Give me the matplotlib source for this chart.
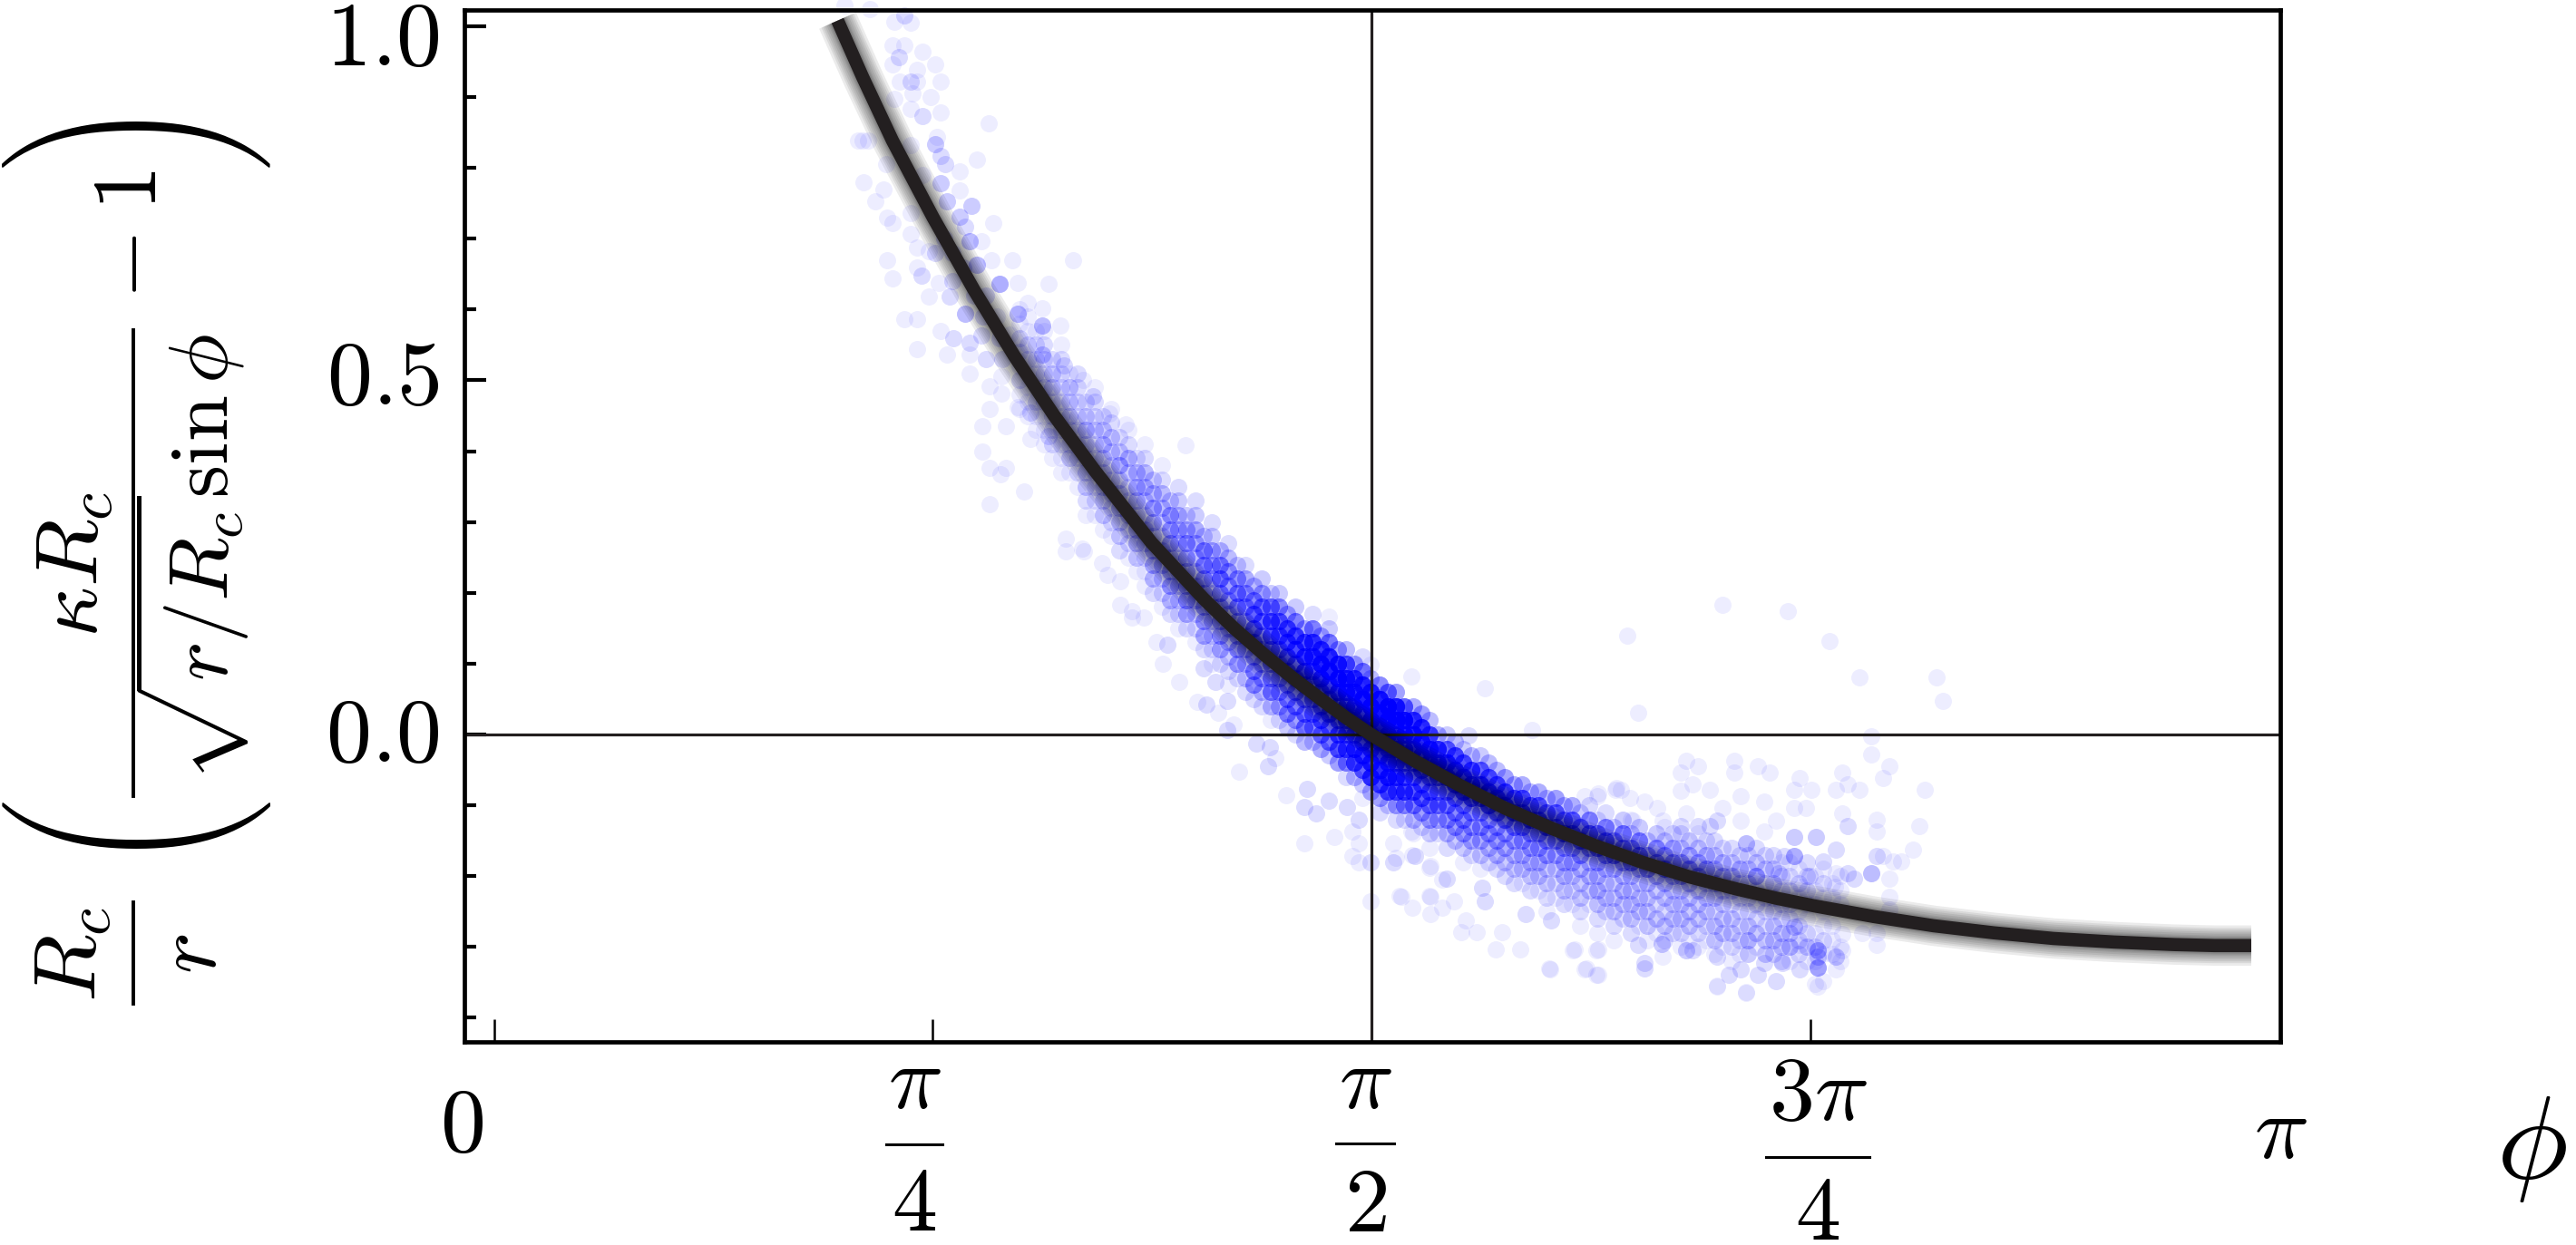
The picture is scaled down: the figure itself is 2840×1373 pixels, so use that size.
import numpy as np
import matplotlib
matplotlib.use("Agg")
import matplotlib.pyplot as plt
import matplotlib.patheffects as pe
from matplotlib.font_manager import FontProperties
from matplotlib.lines import Line2D
import os

plt.rcParams['mathtext.fontset'] = 'cm'

# fitted curve
curve_phi = [0.615, 0.660, 0.713, 0.786, 0.859, 0.931, 1.003, 1.076, 1.177, 1.270, 1.325, 1.380, 1.430,
             1.480, 1.525, 1.570, 1.650, 1.727, 1.810, 1.892, 1.975, 2.058, 2.140, 2.224, 2.295, 2.364, 2.470,
             2.577, 2.685, 2.792, 2.900, 3.008, 3.080, 3.146]
curve_ratio = [1.008, 0.928, 0.839, 0.730, 0.628, 0.535, 0.450, 0.372, 0.271, 0.192, 0.150, 0.112, 0.080,
               0.050, 0.024, 0.000, -0.038, -0.071, -0.104, -0.132, -0.158, -0.181, -0.201, -0.218, -0.231,
               -0.242, -0.257, -0.270, -0.280, -0.288, -0.293, -0.2966, -0.298, -0.298]

# (phi, ratio, how many dots sit there), steep left part
upper_points = [
    (.628, 1.030, 1), (.672, 1.024, 1), (.717, 1.006, 1), (.735, 1.015, 2), (.746, 1.005, 1), (.713, .973, 1),
    (.735, .973, 1), (.767, .964, 1), (.725, .956, 2), (.713, .946, 1), (.789, .946, 1), (.757, .939, 1),
    (.726, .922, 1), (.746, .922, 2), (.758, .922, 1), (.799, .922, 1), (.717, .898, 1), (.749, .905, 1),
    (.782, .900, 1), (.746, .883, 1), (.767, .873, 2), (.799, .878, 1), (.886, .863, 1), (.651, .838, 1),
    (.670, .838, 1), (.660, .838, 1), (.793, .844, 1), (.789, .834, 3), (.746, .832, 1), (.799, .817, 2),
    (.864, .812, 1), (.702, .805, 1), (.807, .805, 2), (.833, .795, 1), (.661, .780, 1), (.697, .770, 1),
    (.767, .790, 1), (.800, .778, 3), (.683, .753, 1), (.811, .753, 3), (.833, .768, 1), (.704, .730, 1),
    (.713, .722, 1), (.746, .736, 1), (.746, .707, 1), (.854, .746, 3), (.833, .731, 3), (.894, .722, 1),
    (.843, .717, 2), (.757, .687, 1), (.851, .697, 4), (.873, .697, 1), (.704, .670, 1), (.757, .660, 1),
    (.778, .682, 1), (.891, .670, 1), (.927, .670, 1), (1.036, .670, 1), (.865, .663, 4), (.713, .644, 1),
    (.765, .648, 2), (.796, .638, 1), (.905, .636, 5), (.992, .636, 1), (.938, .638, 1), (.778, .619, 1),
    (.815, .619, 2), (.843, .594, 4), (.938, .594, 4), (.981, .602, 1), (.735, .586, 1), (.757, .586, 1),
    (.981, .577, 4), (1.014, .577, 1), (.800, .570, 1), (.822, .560, 2), (.873, .563, 2), (.923, .565, 1),
    (.851, .553, 2), (.757, .544, 1), (.811, .536, 1), (.851, .536, 1), (.981, .536, 3), (1.021, .521, 2),
    (.851, .510, 1), (.909, .506, 1), (.887, .492, 1), (.887, .460, 1), (.874, .435, 1), (.874, .400, 1),
    (.887, .377, 1), (.907, .367, 1), (.916, .377, 1), (.949, .343, 1), (.887, .325, 1), (.909, .482, 1),
    (.938, .462, 1), (.960, .455, 2), (.916, .435, 1), (.960, .418, 1), (.992, .421, 2), (.806, .700, 2),
    (.790, .680, 2), (.820, .680, 2), (.840, .660, 2), (.820, .640, 2), (.860, .620, 2), (.880, .620, 2),
    (.875, .590, 2), (.900, .590, 1), (.905, .560, 2), (.880, .530, 2), (.910, .530, 2), (1.238, .409, 1),
    (1.054, .500, 1), (1.072, .477, 2), (1.101, .453, 1), (1.130, .438, 1),
]

# stray dots below the band, phi 1 to 2
lower_points = [
    (1.023, .276, 1), (1.053, .263, 1), (1.023, .259, 1), (1.056, .259, 1), (1.088, .242, 1), (1.099, .225, 1),
    (1.121, .217, 1), (1.121, .183, 1), (1.142, .174, 1), (1.142, .165, 1), (1.164, .165, 1), (1.186, .131, 1),
    (1.205, .127, 2), (1.197, .100, 1), (1.226, .074, 1), (1.270, .093, 2), (1.291, .074, 2), (1.313, .048, 2),
    (1.259, .046, 1), (1.275, .042, 2), (1.297, .031, 1), (1.324, .014, 1), (1.313, .006, 2), (1.494, .166, 1),
    (1.570, .099, 1), (1.643, .082, 1), (1.364, -.013, 2), (1.389, -.018, 2), (1.399, -.033, 1), (1.386, -.045, 2),
    (1.334, -.053, 1), (1.456, -.077, 2), (1.418, -.086, 1), (1.451, -.103, 2), (1.472, -.111, 2), (1.494, -.094, 2),
    (1.527, -.103, 2), (1.548, -.120, 2), (1.505, -.145, 1), (1.451, -.154, 1), (1.537, -.137, 1), (1.548, -.154, 1),
    (1.537, -.171, 1), (1.570, -.180, 2), (1.548, -.180, 1), (1.610, -.154, 1), (1.643, -.137, 1), (1.610, -.180, 2),
    (1.648, -.171, 2), (1.675, -.188, 1), (1.697, -.205, 1), (1.621, -.228, 1), (1.675, -.228, 1), (1.570, -.235, 1),
    (1.624, -.229, 1), (1.677, -.229, 1), (1.719, -.236, 1), (1.644, -.245, 1), (1.698, -.245, 1), (1.677, -.254, 1),
    (1.740, -.263, 1), (1.773, -.236, 2), (1.731, -.279, 1), (1.760, -.279, 1), (1.804, -.279, 1), (1.794, -.304, 1),
    (1.837, -.304, 1), (1.847, -.254, 2), (1.893, -.263, 2), (1.934, -.304, 1), (1.976, -.304, 1), (1.889, -.330, 1),
    (1.955, -.330, 1), (1.976, -.339, 1), (2.059, -.330, 2), (1.706, -.204, 2), (1.769, -.216, 2), (1.615, -.174, 1),
    (1.644, -.170, 1), (1.677, -.186, 1), (1.773, .065, 1), (1.858, .006, 1), (1.744, -.001, 2), (1.976, -.083, 1),
    (2.009, -.076, 1), (1.890, -.331, 1), (1.932, -.305, 1), (1.953, -.331, 1), (1.974, -.339, 1), (1.974, -.305, 1),
]

# sparse cloud on the right side
right_points = [
    (2.199, .183, 1), (2.317, .174, 1), (2.028, .140, 1), (2.391, .132, 1), (2.444, .081, 1), (2.583, .081, 1),
    (2.594, .048, 1), (2.049, .031, 1), (2.466, -.003, 1), (2.466, -.028, 1), (2.135, -.037, 1), (2.156, -.045, 1),
    (2.220, -.037, 1), (2.220, -.054, 1), (2.263, -.045, 1), (2.284, -.054, 1), (2.498, -.045, 1), (2.124, -.054, 1),
    (2.145, -.071, 1), (2.124, -.079, 1), (2.177, -.078, 1), (2.231, -.087, 1), (2.337, -.061, 1), (2.327, -.078, 1),
    (2.359, -.078, 1), (2.413, -.054, 1), (2.423, -.071, 1), (2.402, -.078, 1), (2.444, -.078, 1), (2.487, -.061, 1),
    (2.562, -.078, 1), (2.274, -.095, 1), (2.199, -.104, 1), (2.060, -.095, 1), (2.082, -.104, 1), (2.327, -.104, 1),
    (2.348, -.104, 1), (2.413, -.112, 1), (2.476, -.120, 1), (2.551, -.129, 1), (2.476, -.137, 1), (2.423, -.129, 2),
    (2.541, -.162, 1), (2.476, -.171, 2), (2.487, -.171, 1), (2.504, -.179, 1), (2.520, -.179, 1), (2.466, -.196, 4),
    (2.498, -.204, 1), (2.498, -.229, 1), (2.434, -.204, 2), (2.423, -.196, 2), (2.402, -.196, 1), (2.380, -.179, 2),
    (2.402, -.162, 2), (2.367, -.145, 3), (2.327, -.145, 3), (2.295, -.121, 1), (2.274, -.137, 1), (2.231, -.121, 1),
    (2.189, -.121, 2), (2.242, -.154, 4), (2.327, -.171, 5), (2.309, -.171, 2), (2.177, -.129, 2), (2.156, -.129, 2),
    (2.124, -.129, 2), (2.135, -.112, 1), (2.092, -.121, 1), (2.038, -.121, 1), (2.018, -.078, 1), (2.007, -.078, 1),
    (2.033, -.090, 1), (1.975, -.087, 1), (1.953, -.087, 1), (2.355, -.200, 2), (2.300, -.196, 2), (2.260, -.200, 2),
    (2.340, -.215, 1), (2.400, -.215, 1), (2.189, -.314, 2), (2.189, -.356, 1), (2.210, -.339, 2), (2.231, -.331, 2),
    (2.242, -.365, 1), (2.274, -.322, 2), (2.263, -.339, 2), (2.295, -.348, 2), (2.306, -.322, 2), (2.337, -.331, 2),
    (2.370, -.305, 5), (2.370, -.314, 3), (2.370, -.329, 6), (2.370, -.356, 1), (2.380, -.348, 1), (2.402, -.314, 3),
    (2.413, -.305, 1), (2.402, -.331, 1), (2.476, -.297, 1), (2.476, -.280, 1), (2.498, -.247, 1), (2.449, -.280, 1),
    (2.413, -.282, 1), (2.327, -.271, 3), (2.337, -.297, 1), (2.190, -.355, 1), (2.241, -.364, 1), (2.365, -.352, 1),
    (2.090, -.296, 3), (2.135, -.305, 3), (2.145, -.305, 2), (2.060, -.322, 2), (2.092, -.314, 1), (2.049, -.297, 2),
]

# main band, one row per phi: ratios and how many dots at each
band_a = [
    (.94, [.60, .58, .56, .54, .52, .50, .48, .46], [1, 1, 2, 2, 1, 2, 1, 1]),
    (.97, [.57, .55, .53, .51, .49, .47, .45, .43], [1, 2, 2, 2, 1, 2, 1, 1]),
    (1.00, [.53, .51, .49, .47, .45, .43, .41, .39], [2, 3, 3, 2, 2, 2, 2, 1]),
    (1.03, [.51, .49, .47, .45, .43, .41, .39, .37], [1, 3, 3, 3, 2, 2, 3, 1]),
    (1.06, [.47, .45, .43, .41, .39, .37, .35, .33, .31], [2, 3, 4, 3, 2, 3, 3, 2, 1]),
    (1.09, [.45, .43, .41, .39, .37, .35, .33, .31, .29], [2, 3, 4, 3, 3, 3, 3, 3, 1]),
    (1.12, [.42, .40, .38, .36, .34, .32, .30, .28, .26], [2, 3, 5, 3, 3, 4, 3, 3, 2]),
    (1.15, [.39, .37, .35, .33, .31, .29, .27, .25, .23], [2, 4, 5, 4, 3, 4, 4, 3, 1]),
    (1.18, [.36, .34, .32, .30, .28, .26, .24, .22, .20], [3, 4, 6, 5, 3, 5, 5, 4, 2]),
    (1.21, [.33, .31, .29, .27, .25, .23, .21, .19, .17], [3, 6, 6, 6, 4, 5, 6, 4, 2]),
    (1.24, [.31, .29, .27, .25, .23, .21, .19, .17, .15], [3, 5, 7, 6, 5, 6, 7, 5, 2]),
    (1.27, [.28, .26, .24, .22, .20, .18, .16, .14, .12], [3, 8, 8, 7, 6, 6, 6, 5, 2]),
    (1.30, [.26, .24, .22, .20, .18, .16, .14, .12, .10], [4, 8, 10, 8, 6, 6, 6, 5, 2]),
    (1.33, [.24, .22, .20, .18, .16, .14, .12, .10, .08], [3, 7, 9, 9, 7, 6, 7, 6, 2]),
    (1.36, [.21, .19, .17, .15, .13, .11, .09, .07, .05], [4, 8, 12, 12, 9, 7, 8, 7, 2]),
    (1.39, [.20, .18, .16, .14, .12, .10, .08, .06, .04, .02], [3, 10, 15, 14, 11, 8, 8, 9, 4, 1]),
    (1.42, [.17, .15, .13, .11, .09, .07, .05, .03, .01], [5, 14, 15, 14, 10, 8, 9, 8, 3]),
    (1.45, [.15, .13, .11, .09, .07, .05, .03, .01, -.01], [5, 15, 20, 18, 12, 10, 10, 10, 4]),
    (1.48, [.14, .12, .10, .08, .06, .04, .02, .00, -.02], [5, 18, 25, 22, 15, 12, 14, 10, 5]),
    (1.51, [.12, .10, .08, .06, .04, .02, .00, -.02, -.04], [6, 22, 25, 22, 16, 14, 16, 14, 6]),
    (1.54, [.10, .08, .06, .04, .02, .00, -.02, -.04, -.06], [6, 18, 22, 22, 16, 14, 18, 16, 4]),
    (1.57, [.08, .06, .04, .02, .00, -.02, -.04, -.06, -.08], [4, 22, 30, 28, 18, 18, 22, 20, 5]),
    (1.60, [.06, .04, .02, .00, -.02, -.04, -.06, -.08, -.10], [10, 30, 30, 25, 16, 20, 22, 14, 3]),
    (1.63, [.04, .02, .00, -.02, -.04, -.06, -.08, -.10, -.12], [12, 28, 26, 22, 14, 16, 16, 8, 2]),
    (1.66, [.03, .01, -.01, -.03, -.05, -.07, -.09, -.11, -.13], [6, 20, 24, 22, 14, 12, 12, 6, 2]),
    (1.69, [.00, -.02, -.04, -.06, -.08, -.10, -.12, -.14], [5, 20, 22, 14, 10, 10, 5, 2]),
    (1.72, [-.01, -.03, -.05, -.07, -.09, -.11, -.13, -.15], [4, 15, 22, 16, 10, 8, 6, 3]),
    (1.75, [-.03, -.05, -.07, -.09, -.11, -.13, -.15, -.17], [4, 16, 20, 15, 8, 6, 5, 2]),
    (1.78, [-.04, -.06, -.08, -.10, -.12, -.14, -.16, -.18], [4, 14, 20, 15, 7, 6, 4, 2]),
    (1.81, [-.06, -.08, -.10, -.12, -.14, -.16, -.18, -.20], [6, 16, 16, 10, 6, 5, 3, 2]),
    (1.84, [-.07, -.09, -.11, -.13, -.15, -.17, -.19, -.21], [5, 14, 15, 10, 6, 4, 3, 1]),
    (1.87, [-.08, -.10, -.12, -.14, -.16, -.18, -.20, -.22], [5, 12, 14, 8, 6, 4, 3, 1]),
    (1.90, [-.09, -.11, -.13, -.15, -.17, -.19, -.21, -.23], [6, 12, 13, 8, 5, 3, 2, 1]),
    (1.93, [-.10, -.12, -.14, -.16, -.18, -.20, -.22, -.24], [5, 12, 12, 7, 5, 3, 2, 1]),
    (1.96, [-.10, -.12, -.14, -.16, -.18, -.20, -.22, -.24], [2, 8, 12, 8, 4, 4, 3, 1]),
    (1.99, [-.11, -.13, -.15, -.17, -.19, -.21, -.23, -.25], [2, 8, 12, 8, 4, 3, 3, 2]),
    (2.02, [-.12, -.14, -.16, -.18, -.20, -.22, -.24, -.26], [3, 9, 10, 6, 4, 4, 3, 2]),
    (2.05, [-.13, -.15, -.17, -.19, -.21, -.23, -.25, -.27], [3, 8, 10, 5, 3, 3, 3, 1]),
    (2.08, [-.14, -.16, -.18, -.20, -.22, -.24, -.26, -.28], [3, 7, 8, 4, 3, 2, 3, 1]),
    (2.11, [-.14, -.16, -.18, -.20, -.22, -.24, -.26, -.28], [2, 5, 7, 5, 3, 3, 3, 2]),
    (2.14, [-.15, -.17, -.19, -.21, -.23, -.25, -.27, -.29], [3, 5, 7, 4, 3, 3, 3, 1]),
    (2.17, [-.15, -.17, -.19, -.21, -.23, -.25, -.27, -.29], [2, 4, 6, 3, 3, 3, 2, 1]),
    (2.20, [-.16, -.18, -.20, -.22, -.24, -.26, -.28, -.30], [2, 4, 5, 3, 3, 3, 3, 1]),
    (2.23, [-.17, -.19, -.21, -.23, -.25, -.27, -.29, -.31], [2, 4, 3, 2, 2, 2, 2, 1]),
    (2.26, [-.16, -.18, -.20, -.22, -.24, -.26, -.28, -.30], [2, 3, 4, 2, 2, 2, 3, 1]),
    (2.29, [-.17, -.19, -.21, -.23, -.25, -.27, -.29, -.31], [2, 3, 3, 2, 2, 3, 3, 2]),
    (2.32, [-.18, -.20, -.22, -.24, -.26, -.28, -.30, -.32], [1, 2, 2, 2, 2, 3, 4, 1]),
    (2.35, [-.18, -.20, -.22, -.24, -.26, -.28, -.30, -.32], [2, 2, 2, 1, 1, 2, 3, 1]),
    (2.38, [-.19, -.21, -.23, -.25, -.27, -.29, -.31], [1, 2, 1, 1, 1, 2, 1]),
    (2.41, [-.20, -.22, -.24, -.30, -.32], [1, 1, 1, 1, 1]),
]

# the columns between those
band_b = [
    (.955, [.61, .59, .57, .55, .53, .51, .49, .47, .45], [1, 1, 1, 2, 2, 1, 1, 1, 1]),
    (.985, [.57, .55, .53, .51, .49, .47, .45, .43, .41], [1, 2, 2, 2, 2, 2, 1, 1, 1]),
    (1.015, [.55, .53, .51, .49, .47, .45, .43, .41, .39, .37], [1, 2, 2, 2, 2, 2, 2, 2, 1, 1]),
    (1.045, [.51, .49, .47, .45, .43, .41, .39, .37, .35], [2, 2, 2, 2, 2, 2, 2, 2, 1]),
    (1.075, [.49, .47, .45, .43, .41, .39, .37, .35, .33, .31], [1, 2, 2, 3, 2, 2, 2, 2, 2, 1]),
    (1.105, [.46, .44, .42, .40, .38, .36, .34, .32, .30, .28], [1, 2, 3, 3, 2, 2, 2, 2, 2, 1]),
    (1.135, [.43, .41, .39, .37, .35, .33, .31, .29, .27, .25], [1, 2, 4, 3, 2, 2, 3, 2, 2, 1]),
    (1.165, [.41, .39, .37, .35, .33, .31, .29, .27, .25, .23, .21], [1, 2, 4, 4, 3, 2, 3, 3, 2, 1, 1]),
    (1.195, [.38, .36, .34, .32, .30, .28, .26, .24, .22, .20, .18], [1, 2, 4, 4, 3, 2, 3, 4, 3, 2, 1]),
    (1.225, [.35, .33, .31, .29, .27, .25, .23, .21, .19, .17, .15], [2, 3, 4, 5, 4, 3, 3, 4, 3, 2, 1]),
    (1.255, [.33, .31, .29, .27, .25, .23, .21, .19, .17, .15, .13], [2, 3, 5, 5, 4, 3, 4, 4, 3, 2, 1]),
    (1.285, [.30, .28, .26, .24, .22, .20, .18, .16, .14, .12, .10], [2, 3, 5, 6, 5, 3, 4, 4, 3, 2, 1]),
    (1.315, [.27, .25, .23, .21, .19, .17, .15, .13, .11, .09, .07], [2, 4, 6, 6, 5, 4, 4, 4, 3, 2, 1]),
    (1.345, [.24, .22, .20, .18, .16, .14, .12, .10, .08, .06], [2, 5, 7, 7, 5, 4, 5, 4, 3, 2]),
    (1.375, [.22, .20, .18, .16, .14, .12, .10, .08, .06, .04], [3, 6, 10, 11, 8, 6, 6, 6, 4, 2]),
    (1.405, [.20, .18, .16, .14, .12, .10, .08, .06, .04, .02], [3, 8, 13, 13, 10, 7, 7, 7, 5, 2]),
    (1.435, [.18, .16, .14, .12, .10, .08, .06, .04, .02, .00], [3, 9, 16, 16, 12, 9, 9, 9, 6, 2]),
    (1.465, [.17, .15, .13, .11, .09, .07, .05, .03, .01, -.01], [2, 9, 18, 20, 15, 10, 10, 10, 8, 3]),
    (1.495, [.15, .13, .11, .09, .07, .05, .03, .01, -.01, -.03], [3, 10, 22, 25, 18, 13, 14, 12, 10, 3]),
    (1.525, [.12, .10, .08, .06, .04, .02, .00, -.02, -.04, -.06], [4, 14, 24, 24, 18, 15, 16, 15, 8, 2]),
    (1.555, [.11, .09, .07, .05, .03, .01, -.01, -.03, -.05, -.07, -.09], [2, 10, 22, 26, 20, 15, 18, 18, 12, 3, 1]),
    (1.585, [.07, .05, .03, .01, -.01, -.03, -.05, -.07, -.09, -.11], [8, 26, 32, 28, 18, 20, 22, 16, 6, 2]),
    (1.615, [.06, .04, .02, .00, -.02, -.04, -.06, -.08, -.10, -.12], [6, 24, 30, 26, 18, 18, 20, 14, 6, 2]),
    (1.645, [.04, .02, .00, -.02, -.04, -.06, -.08, -.10, -.12, -.14], [5, 20, 26, 24, 15, 14, 14, 9, 4, 1]),
    (1.675, [.02, .00, -.02, -.04, -.06, -.08, -.10, -.12, -.14, -.16], [4, 16, 24, 22, 12, 12, 10, 6, 3, 1]),
    (1.705, [.00, -.02, -.04, -.06, -.08, -.10, -.12, -.14, -.16], [3, 12, 22, 18, 10, 10, 7, 4, 2]),
    (1.735, [-.02, -.04, -.06, -.08, -.10, -.12, -.14, -.16, -.18], [3, 14, 20, 16, 9, 8, 6, 3, 1]),
    (1.765, [-.03, -.05, -.07, -.09, -.11, -.13, -.15, -.17, -.19], [3, 12, 20, 15, 8, 7, 5, 3, 1]),
    (1.795, [-.05, -.07, -.09, -.11, -.13, -.15, -.17, -.19], [4, 14, 18, 12, 6, 6, 4, 2]),
    (1.825, [-.07, -.09, -.11, -.13, -.15, -.17, -.19, -.21], [5, 14, 15, 9, 6, 4, 3, 2]),
    (1.855, [-.08, -.10, -.12, -.14, -.16, -.18, -.20, -.22], [4, 12, 14, 8, 6, 4, 3, 2]),
    (1.885, [-.09, -.11, -.13, -.15, -.17, -.19, -.21, -.23, -.25], [4, 11, 13, 8, 6, 3, 3, 2, 1]),
    (1.915, [-.10, -.12, -.14, -.16, -.18, -.20, -.22, -.24], [4, 10, 12, 7, 5, 4, 3, 2]),
    (1.945, [-.11, -.13, -.15, -.17, -.19, -.21, -.23, -.25, -.27], [3, 10, 11, 7, 4, 3, 3, 2, 1]),
    (1.975, [-.12, -.14, -.16, -.18, -.20, -.22, -.24, -.26, -.28], [2, 9, 11, 6, 4, 4, 3, 2, 1]),
    (2.005, [-.13, -.15, -.17, -.19, -.21, -.23, -.25, -.27, -.29], [3, 8, 10, 5, 3, 3, 3, 2, 1]),
    (2.035, [-.12, -.14, -.16, -.18, -.20, -.22, -.24, -.26, -.28], [1, 3, 8, 9, 4, 3, 3, 3, 2]),
    (2.065, [-.15, -.17, -.19, -.21, -.23, -.25, -.27, -.29], [3, 7, 8, 4, 3, 3, 3, 1]),
    (2.095, [-.13, -.15, -.17, -.19, -.21, -.23, -.25, -.27, -.29], [1, 3, 6, 8, 4, 3, 2, 3, 2]),
    (2.125, [-.14, -.16, -.18, -.20, -.22, -.24, -.26, -.28, -.30], [2, 3, 6, 6, 3, 3, 3, 2, 1]),
    (2.155, [-.14, -.16, -.18, -.20, -.22, -.24, -.26, -.28, -.30], [1, 3, 5, 6, 3, 3, 3, 2, 1]),
    (2.185, [-.15, -.17, -.19, -.21, -.23, -.25, -.27, -.29, -.31], [2, 3, 4, 4, 3, 2, 3, 3, 1]),
    (2.215, [-.16, -.18, -.20, -.22, -.24, -.26, -.28, -.30, -.32], [2, 3, 4, 3, 2, 3, 3, 2, 1]),
    (2.245, [-.17, -.19, -.21, -.23, -.25, -.27, -.29, -.31], [2, 3, 3, 2, 2, 3, 4, 3]),
    (2.275, [-.17, -.19, -.21, -.23, -.25, -.27, -.29, -.31], [2, 3, 2, 2, 2, 2, 3, 3]),
    (2.305, [-.18, -.20, -.22, -.24, -.26, -.28, -.30, -.32], [1, 2, 2, 2, 2, 3, 3, 2]),
    (2.335, [-.19, -.21, -.23, -.25, -.27, -.29, -.31], [1, 2, 1, 1, 2, 2, 2]),
    (2.365, [-.20, -.22, -.24, -.28, -.30, -.32], [1, 1, 1, 1, 2, 1]),
    (2.395, [-.21, -.23, -.27, -.29, -.31], [1, 1, 1, 1, 1]),
]

x_tick_values = [0, np.pi / 4, np.pi / 2, 3 * np.pi / 4]
y_major = [0.0, 0.5, 1.0]
y_minor = [-0.4, -0.3, -0.2, -0.1, 0.1, 0.2, 0.3, 0.4, 0.6, 0.7, 0.8, 0.9]

y_labels = [r'$1.0$', r'$0.5$', r'$0.0$']
x_numer = [r'$\pi$', r'$\pi$', r'$3\pi$']
x_denom = [r'$4$', r'$2$', r'$4$']

W, H = 2840, 1373
fig = plt.figure(figsize=(W / 100, H / 100), dpi=100)
ax = fig.add_axes([511.7 / W, 1 - 1149 / H, (2514 - 511.7) / W, (1149 - 11) / H])

# flatten everything into one cloud
phis, ratios, counts = [], [], []
for pts in (upper_points, lower_points, right_points):
    for p, r, n in pts:
        phis.append(p)
        ratios.append(r)
        counts.append(n)
for band in (band_a, band_b):
    for p, rr, nn in band:
        for r, n in zip(rr, nn):
            phis.append(p)
            ratios.append(r)
            counts.append(n)
xs = np.repeat(phis, counts)
ys = np.repeat(ratios, counts)

ax.scatter(xs, ys, s=187, color='#0000ff', alpha=0.07, linewidths=0, zorder=2, clip_on=False)

ax.axvline(np.pi / 2, color='#231f20', lw=2.3, zorder=3)
ax.axhline(0, color='#231f20', lw=2.3, zorder=3)

# soft dark shadow round the curve
glow = [pe.Stroke(linewidth=w, foreground='black', alpha=0.08) for w in (32, 28, 25, 22, 19, 16, 14, 12.5)]
ax.plot(curve_phi, curve_ratio, color='#231f20', lw=10.5, solid_capstyle='butt', solid_joinstyle='round',
        zorder=4, path_effects=glow + [pe.Normal()])

ax.set_xlim(-0.0536, 3.198)
ax.set_ylim(-0.434, 1.023)

ax.set_xticks(x_tick_values)
ax.set_xticklabels([])
ax.set_yticks(y_major)
ax.set_yticks(y_minor, minor=True)
ax.set_yticklabels([])
ax.tick_params(axis='x', which='major', direction='in', length=18, width=1.8)
ax.tick_params(axis='y', which='major', direction='in', length=17, width=3)
ax.tick_params(axis='y', which='minor', direction='in', length=9.6, width=3)
for s in ax.spines.values():
    s.set_linewidth(3.4)
    s.set_zorder(5)


def put(x, y, txt, size=72, **kw):
    fig.text(x / W, 1 - y / H, txt, fontsize=size, **kw)


def hbar(x0, x1, y, lw=2.2):
    fig.add_artist(Line2D([x0 / W, x1 / W], [1 - y / H, 1 - y / H], color='black', lw=lw))


def vbar(x, y0, y1, lw=2.8):
    fig.add_artist(Line2D([x / W, x / W], [1 - y0 / H, 1 - y1 / H], color='black', lw=lw))


def side(x, y, txt, size=70):
    # rotated text, x is where its baseline runs
    fig.text(x / W, 1 - y / H, txt, fontsize=size, rotation=90, rotation_mode='anchor', ha='center', va='baseline')


put(485, 72, y_labels[0], ha='right', va='baseline')
put(485, 446, y_labels[1], ha='right', va='baseline')
put(485, 840, y_labels[2], ha='right', va='baseline')

# x labels are stacked by hand, the gaps round the bar are wider than mathtext gives
put(509, 1270, r'$0$', ha='center', va='baseline')
for cx, half, num, den, by, nb, db in zip([1008, 1505, 2004], [31, 32, 57], x_numer, x_denom,
                                          [1262, 1261, 1276], [1222, 1222, 1235], [1357, 1358, 1367]):
    put(cx, nb, num, ha='center', va='baseline')
    hbar(cx - half, cx + half, by)
    put(cx, db, den, ha='center', va='baseline')
put(2514, 1277, r'$\pi$', ha='center', va='baseline')
put(2791, 1265, r'$\phi$', size=95, ha='center', va='center')

# y label in pieces, mathtext breaks on delimiters this tall
# char 0x21 of cmex10 is the tallest round bracket, turned either way for the two sides
big_paren = FontProperties(fname=os.path.join(matplotlib.get_data_path(), 'fonts', 'ttf', 'cmex10.ttf'), size=70)
side(105, 1052, r'$R_c$')
vbar(147, 995, 1107)
side(238, 1052, r'$r$')
fig.text(147 / W, 1 - 922 / H, '!', fontproperties=big_paren, rotation=-90, ha='center', va='center')
side(107, 622, r'$\kappa R_c$')
vbar(147, 364, 878)
side(252, 615, r'$\sqrt{r/R_c}\sin\phi$', size=66)
side(172, 294, r'$-$', size=72)
side(172, 210, r'$1$', size=72)
fig.text(147 / W, 1 - 146 / H, '!', fontproperties=big_paren, rotation=90, ha='center', va='center')

fig.savefig('out.png', dpi=100)
